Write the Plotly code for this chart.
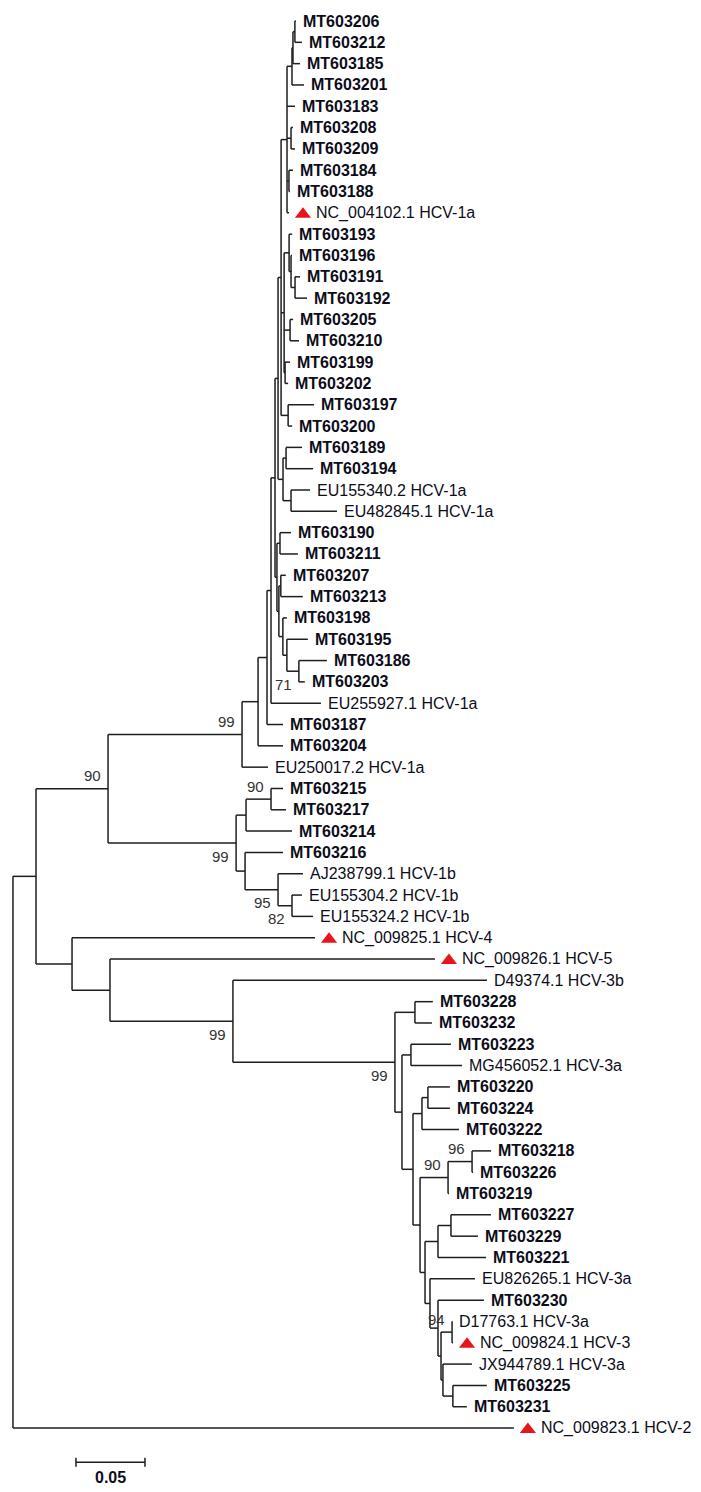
import plotly.graph_objects as go

# tips, top to bottom as drawn
leaf_names = [
    "MT603206", "MT603212", "MT603185", "MT603201", "MT603183", "MT603208", "MT603209",
    "MT603184", "MT603188", "NC_004102.1 HCV-1a", "MT603193", "MT603196", "MT603191",
    "MT603192", "MT603205", "MT603210", "MT603199", "MT603202", "MT603197", "MT603200",
    "MT603189", "MT603194", "EU155340.2 HCV-1a", "EU482845.1 HCV-1a", "MT603190",
    "MT603211", "MT603207", "MT603213", "MT603198", "MT603195", "MT603186", "MT603203",
    "EU255927.1 HCV-1a", "MT603187", "MT603204", "EU250017.2 HCV-1a", "MT603215",
    "MT603217", "MT603214", "MT603216", "AJ238799.1 HCV-1b", "EU155304.2 HCV-1b",
    "EU155324.2 HCV-1b", "NC_009825.1 HCV-4", "NC_009826.1 HCV-5", "D49374.1 HCV-3b",
    "MT603228", "MT603232", "MT603223", "MG456052.1 HCV-3a", "MT603220", "MT603224",
    "MT603222", "MT603218", "MT603226", "MT603219", "MT603227", "MT603229", "MT603221",
    "EU826265.1 HCV-3a", "MT603230", "D17763.1 HCV-3a", "NC_009824.1 HCV-3",
    "JX944789.1 HCV-3a", "MT603225", "MT603231", "NC_009823.1 HCV-2",
]
leaf_parent = [
    "a1", "a1", "a2", "a3", "U1", "b1", "b1", "b2", "b2", "U1", "c2", "c2a", "c1", "c1",
    "d1", "d1", "e1", "e1", "f1", "f1", "P1a", "P1a", "P1b", "P1b", "E5", "E5", "F1", "F1",
    "F4", "F3", "F2", "F2", "N_C", "N_B", "N_A", "G1a", "H1a", "H1a", "H1", "H2", "H3",
    "H4", "H4", "B", "C", "G3", "K1", "K1", "K3", "K3", "K5a", "K5a", "K5", "K8", "K8",
    "K7", "K10", "K10", "K11", "L6", "L5", "L1", "L1", "L3", "L2", "L2", "R",
]
leaf_length = [
    0.0007, 0.0051, 0.0051, 0.0087, 0.0058, 0.0014, 0.0029, 0.0029, 0.0007, 0.0014,
    0.0022, 0.0007, 0.0036, 0.0087, 0.0022, 0.0065, 0.0036, 0.0022, 0.0188, 0.0029,
    0.0116, 0.0196, 0.0138, 0.0333, 0.0080, 0.0130, 0.0036, 0.0159, 0.0029, 0.0152,
    0.0203, 0.0043, 0.0362, 0.0116, 0.0181, 0.0188, 0.0087, 0.0109, 0.0333, 0.0275,
    0.0181, 0.0072, 0.0152, 0.1761, 0.2355, 0.1841, 0.0130, 0.0123, 0.0290, 0.0370,
    0.0159, 0.0159, 0.0268, 0.0138, 0.0007, 0.0007, 0.0290, 0.0196, 0.0348, 0.0326,
    0.0333, 0.0003, 0.0007, 0.0210, 0.0246, 0.0101, 0.3630,
]
# reference genomes marked with a red triangle
marked = ["NC_004102.1 HCV-1a", "NC_009825.1 HCV-4", "NC_009826.1 HCV-5",
          "NC_009824.1 HCV-3", "NC_009823.1 HCV-2"]

# internal nodes
node_names = [
    "R", "A", "G1", "B", "C", "G3", "G3a", "K1", "K2", "K3", "K4", "K5", "K5a", "K6",
    "K7", "K8", "K12", "K11", "K10", "L6", "L5", "L4", "L1", "L3", "L2", "G1a", "G1b",
    "H1", "H1a", "H2", "H3", "H4", "N_A", "N_B", "N_C", "N_D", "N_E", "N_F", "E5", "F5",
    "F1", "F4", "F3", "F2", "U", "P1", "P1a", "P1b", "U1", "a3", "a2", "a1", "b1", "b2",
    "U2", "c2", "c2a", "c1", "d1", "e1", "f1",
]
node_parent = [
    None, "R", "A", "A", "B", "C", "G3", "G3a", "G3a", "K2", "K2", "K4", "K5", "K4",
    "K6", "K7", "K6", "K12", "K11", "K12", "L6", "L5", "L4", "L4", "L3", "G1", "G1",
    "G1b", "H1", "G1b", "H2", "H3", "G1a", "N_A", "N_B", "N_C", "N_D", "N_D", "N_F", "N_F",
    "F5", "F5", "F4", "F3", "N_E", "N_E", "P1", "P1", "U", "U1", "a3", "a2", "U1", "U1",
    "U", "U2", "c2", "c2a", "U2", "U2", "U",
]
node_length = [
    0.0, 0.0167, 0.0522, 0.0261, 0.0275, 0.0891, 0.1174, 0.0145, 0.0051, 0.0065, 0.0080,
    0.0065, 0.0043, 0.0051, 0.0203, 0.0174, 0.0036, 0.0094, 0.0094, 0.0036, 0.0058,
    0.0022, 0.0080, 0.0014, 0.0072, 0.0971, 0.0928, 0.0072, 0.0181, 0.0065, 0.0239,
    0.0101, 0.0116, 0.0065, 0.0029, 0.0029, 0.0022, 0.0014, 0.0022, 0.0014, 0.0014,
    0.0029, 0.0029, 0.0087, 0.0022, 0.0036, 0.0022, 0.0058, 0.0043, 0.0036, 0.0007,
    0.0014, 0.0029, 0.0014, 0.0022, 0.0036, 0.0014, 0.0029, 0.0043, 0.0007, 0.0051,
]
support_nodes = ["G1", "G1a", "G1b", "H1a", "H3", "H4", "F2", "G3", "G3a", "K7", "K8", "L1"]
support_values = [90, 99, 99, 90, 95, 82, 71, 99, 99, 90, 96, 94]
scale_length = 0.05

# label side of each bootstrap value (style only)
support_side = {"G1": 1, "G1a": 1, "G1b": -1, "H1a": 1, "H3": -1, "H4": -1, "F2": -1,
                "G3": -1, "G3a": -1, "K7": 1, "K8": 1, "L1": 1}

W, H = 701, 1492
x_range = [-0.0094, 0.4986]
y_range = [69.0, -0.985]
px_x = (x_range[1] - x_range[0]) / W
px_y = (y_range[0] - y_range[1]) / H

parent_of = dict(zip(node_names, node_parent))
parent_of.update(zip(leaf_names, leaf_parent))
length_of = dict(zip(node_names, node_length))
length_of.update(zip(leaf_names, leaf_length))
children = {n: [] for n in node_names}
for n, p in parent_of.items():
    if p is not None:
        children[p].append(n)

ypos = {name: i for i, name in enumerate(leaf_names)}


def place(n):
    if n in ypos:
        return ypos[n]
    ys = sorted(place(c) for c in children[n])
    ypos[n] = (ys[0] + ys[-1]) / 2
    return ypos[n]


depth = {"R": 0.0}


def set_depth(n):
    for c in children.get(n, []):
        depth[c] = depth[n] + length_of[c]
        set_depth(c)


place("R")
set_depth("R")

xs, ys = [], []
for n, p in parent_of.items():
    if p is not None:
        xs += [depth[p], depth[n], None]
        ys += [ypos[n], ypos[n], None]
for n in node_names:
    cy = [ypos[c] for c in children[n]]
    xs += [depth[n], depth[n], None]
    ys += [min(cy), max(cy), None]

fig = go.Figure()
fig.add_trace(go.Scatter(x=xs, y=ys, mode="lines", line=dict(color="#1e1e1e", width=1.5),
                         hoverinfo="skip"))

fig.add_trace(go.Scatter(
    x=[depth[m] + 14 * px_x for m in marked],
    y=[ypos[m] + 1.5 * px_y for m in marked],
    mode="markers", marker=dict(symbol="triangle-up", size=14, color="#e8141b"),
    hoverinfo="skip"))

font = "Liberation Sans, Arial, sans-serif"
for name in leaf_names:
    shift = 27 if name in marked else 7
    bold = name.startswith("MT")
    fig.add_annotation(x=depth[name], y=ypos[name], text=name, showarrow=False,
                       xanchor="left", yanchor="middle", xshift=shift - 1, borderpad=0,
                       font=dict(family=font, size=16, color="#0d0d1a",
                                 weight="bold" if bold else "normal"))

for n, v in zip(support_nodes, support_values):
    fig.add_annotation(x=depth[n], y=ypos[n], text=str(v), showarrow=False,
                       xanchor="right", yanchor="middle", xshift=-6,
                       yshift=13 * support_side[n], borderpad=0,
                       font=dict(family=font, size=15, color="#333333"))

# scale bar
bx0 = 63 * px_x
by = 67.6
tick = 4.5 * px_y
fig.add_trace(go.Scatter(
    x=[bx0, bx0 + scale_length, None, bx0, bx0, None, bx0 + scale_length, bx0 + scale_length],
    y=[by, by, None, by - tick, by + tick, None, by - tick, by + tick],
    mode="lines", line=dict(color="#1e1e1e", width=1.5), hoverinfo="skip"))
fig.add_annotation(x=bx0 + scale_length / 2, y=by + 15 * px_y, text=str(scale_length),
                   showarrow=False, xanchor="center", yanchor="middle",
                   font=dict(family=font, size=16, color="#0d0d1a", weight="bold"))

fig.update_layout(
    width=W, height=H, margin=dict(l=0, r=0, t=0, b=0, pad=0),
    paper_bgcolor="white", plot_bgcolor="white", showlegend=False,
    xaxis=dict(range=x_range, visible=False, fixedrange=True),
    yaxis=dict(range=y_range, visible=False, fixedrange=True),
)
fig.write_html("out.html", config={"displayModeBar": False},
               post_script="document.body.style.margin='0';")
